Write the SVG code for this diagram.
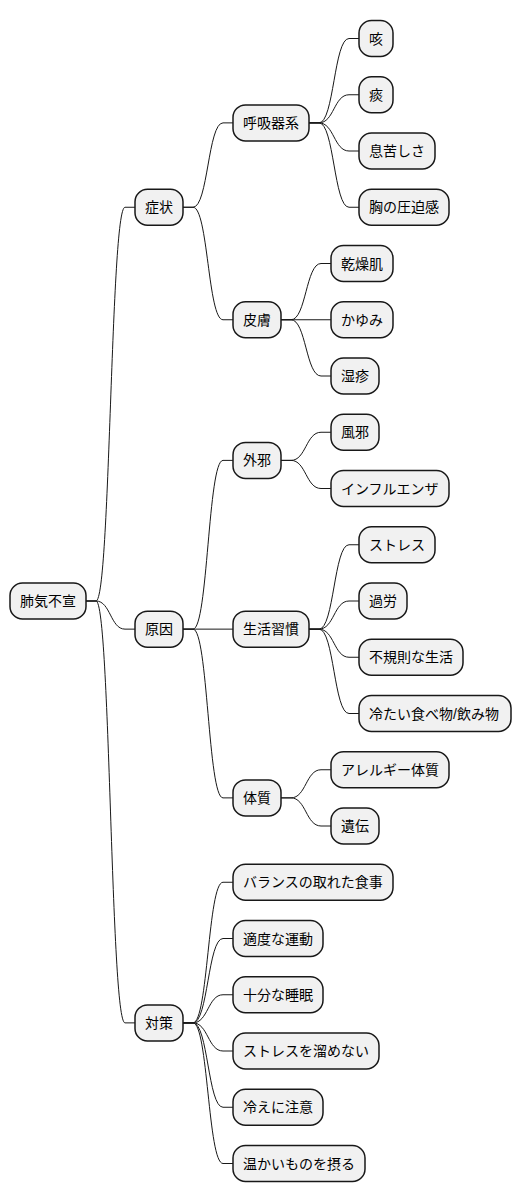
<svg xmlns="http://www.w3.org/2000/svg" width="521" height="1203" viewBox="0 0 521 1203">
<style>
.n rect{fill:#F1F1F1;stroke:#181818;stroke-width:1.5}
.n text{font-family:"Liberation Sans","Noto Sans CJK JP",sans-serif;font-size:14px;fill:#000}
#links path{fill:none;stroke:#181818;stroke-width:1}
</style>
<rect width="521" height="1203" fill="#FFFFFF"/>
<g id="links">
<path d="M86,601 H96 C110.5,601 110.5,207.25 125,207.25 H135"/>
<path d="M86,601 H96 C110.5,601 110.5,629.13 125,629.13 H135"/>
<path d="M86,601 H96 C110.5,601 110.5,1022.88 125,1022.88 H135"/>
<path d="M183,207.25 H193 C208,207.25 208,122.88 223,122.88 H233"/>
<path d="M183,207.25 H193 C208,207.25 208,319.75 223,319.75 H233"/>
<path d="M183,629.13 H193 C208,629.13 208,460.38 223,460.38 H233"/>
<path d="M183,629.13 H233"/>
<path d="M183,629.13 H193 C208,629.13 208,797.88 223,797.88 H233"/>
<path d="M183,1022.88 H193 C208,1022.88 208,882.25 223,882.25 H233"/>
<path d="M183,1022.88 H193 C208,1022.88 208,938.5 223,938.5 H233"/>
<path d="M183,1022.88 H193 C208,1022.88 208,994.75 223,994.75 H233"/>
<path d="M183,1022.88 H193 C208,1022.88 208,1051 223,1051 H233"/>
<path d="M183,1022.88 H193 C208,1022.88 208,1107.25 223,1107.25 H233"/>
<path d="M183,1022.88 H193 C208,1022.88 208,1163.5 223,1163.5 H233"/>
<path d="M309,122.88 H319 C334,122.88 334,38.5 349,38.5 H359"/>
<path d="M309,122.88 H319 C334,122.88 334,94.75 349,94.75 H359"/>
<path d="M309,122.88 H319 C334,122.88 334,151 349,151 H359"/>
<path d="M309,122.88 H319 C334,122.88 334,207.25 349,207.25 H359"/>
<path d="M281,319.75 H291 C306,319.75 306,263.5 321,263.5 H331"/>
<path d="M281,319.75 H331"/>
<path d="M281,319.75 H291 C306,319.75 306,376 321,376 H331"/>
<path d="M281,460.38 H291 C306,460.38 306,432.25 321,432.25 H331"/>
<path d="M281,460.38 H291 C306,460.38 306,488.5 321,488.5 H331"/>
<path d="M309,629.13 H319 C334,629.13 334,544.75 349,544.75 H359"/>
<path d="M309,629.13 H319 C334,629.13 334,601 349,601 H359"/>
<path d="M309,629.13 H319 C334,629.13 334,657.25 349,657.25 H359"/>
<path d="M309,629.13 H319 C334,629.13 334,713.5 349,713.5 H359"/>
<path d="M281,797.88 H291 C306,797.88 306,769.75 321,769.75 H331"/>
<path d="M281,797.88 H291 C306,797.88 306,826 321,826 H331"/>
</g>
<g id="n-root" class="n"><rect x="10" y="583" width="76" height="36" rx="12.5"/><text x="20" y="606">肺気不宣</text></g>
<g id="n-symptom" class="n"><rect x="135" y="189.25" width="48" height="36" rx="12.5"/><text x="145" y="212.25">症状</text></g>
<g id="n-cause" class="n"><rect x="135" y="611.13" width="48" height="36" rx="12.5"/><text x="145" y="634.13">原因</text></g>
<g id="n-measure" class="n"><rect x="135" y="1004.88" width="48" height="36" rx="12.5"/><text x="145" y="1027.88">対策</text></g>
<g id="n-resp" class="n"><rect x="233" y="104.88" width="76" height="36" rx="12.5"/><text x="243" y="127.88">呼吸器系</text></g>
<g id="n-skin" class="n"><rect x="233" y="301.75" width="48" height="36" rx="12.5"/><text x="243" y="324.75">皮膚</text></g>
<g id="n-external" class="n"><rect x="233" y="442.38" width="48" height="36" rx="12.5"/><text x="243" y="465.38">外邪</text></g>
<g id="n-lifestyle" class="n"><rect x="233" y="611.13" width="76" height="36" rx="12.5"/><text x="243" y="634.13">生活習慣</text></g>
<g id="n-constitution" class="n"><rect x="233" y="779.88" width="48" height="36" rx="12.5"/><text x="243" y="802.88">体質</text></g>
<g id="n-cough" class="n"><rect x="359" y="20.5" width="34" height="36" rx="12.5"/><text x="369" y="43.5">咳</text></g>
<g id="n-phlegm" class="n"><rect x="359" y="76.75" width="34" height="36" rx="12.5"/><text x="369" y="99.75">痰</text></g>
<g id="n-breath" class="n"><rect x="359" y="133" width="76" height="36" rx="12.5"/><text x="369" y="156">息苦しさ</text></g>
<g id="n-chest" class="n"><rect x="359" y="189.25" width="90" height="36" rx="12.5"/><text x="369" y="212.25">胸の圧迫感</text></g>
<g id="n-dry" class="n"><rect x="331" y="245.5" width="62" height="36" rx="12.5"/><text x="341" y="268.5">乾燥肌</text></g>
<g id="n-itch" class="n"><rect x="331" y="301.75" width="62" height="36" rx="12.5"/><text x="341" y="324.75">かゆみ</text></g>
<g id="n-eczema" class="n"><rect x="331" y="358" width="48" height="36" rx="12.5"/><text x="341" y="381">湿疹</text></g>
<g id="n-cold" class="n"><rect x="331" y="414.25" width="48" height="36" rx="12.5"/><text x="341" y="437.25">風邪</text></g>
<g id="n-flu" class="n"><rect x="331" y="470.5" width="118" height="36" rx="12.5"/><text x="341" y="493.5">インフルエンザ</text></g>
<g id="n-stress" class="n"><rect x="359" y="526.75" width="76" height="36" rx="12.5"/><text x="369" y="549.75">ストレス</text></g>
<g id="n-overwork" class="n"><rect x="359" y="583" width="48" height="36" rx="12.5"/><text x="369" y="606">過労</text></g>
<g id="n-irregular" class="n"><rect x="359" y="639.25" width="104" height="36" rx="12.5"/><text x="369" y="662.25">不規則な生活</text></g>
<g id="n-colddrink" class="n"><rect x="359" y="695.5" width="152" height="36" rx="12.5"/><text x="369" y="718.5">冷たい食べ物/飲み物</text></g>
<g id="n-allergy" class="n"><rect x="331" y="751.75" width="118" height="36" rx="12.5"/><text x="341" y="774.75">アレルギー体質</text></g>
<g id="n-genetic" class="n"><rect x="331" y="808" width="48" height="36" rx="12.5"/><text x="341" y="831">遺伝</text></g>
<g id="n-diet" class="n"><rect x="233" y="864.25" width="160" height="36" rx="12.5"/><text x="243" y="887.25">バランスの取れた食事</text></g>
<g id="n-exercise" class="n"><rect x="233" y="920.5" width="90" height="36" rx="12.5"/><text x="243" y="943.5">適度な運動</text></g>
<g id="n-sleep" class="n"><rect x="233" y="976.75" width="90" height="36" rx="12.5"/><text x="243" y="999.75">十分な睡眠</text></g>
<g id="n-nostress" class="n"><rect x="233" y="1033" width="146" height="36" rx="12.5"/><text x="243" y="1056">ストレスを溜めない</text></g>
<g id="n-chill" class="n"><rect x="233" y="1089.25" width="90" height="36" rx="12.5"/><text x="243" y="1112.25">冷えに注意</text></g>
<g id="n-warm" class="n"><rect x="233" y="1145.5" width="132" height="36" rx="12.5"/><text x="243" y="1168.5">温かいものを摂る</text></g>
</svg>
